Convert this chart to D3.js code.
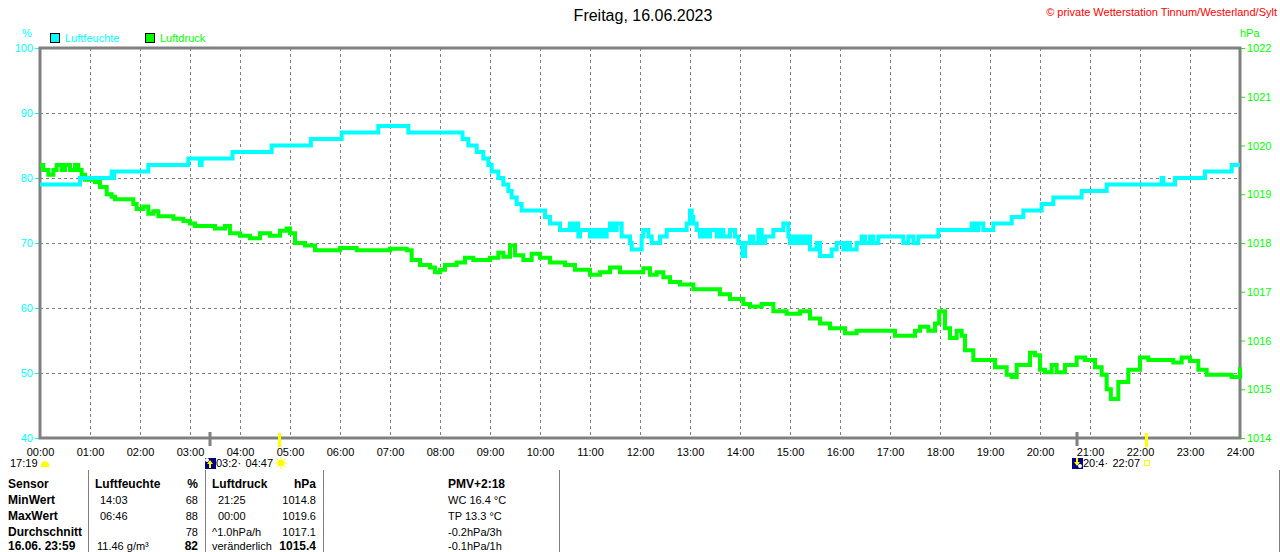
<!DOCTYPE html>
<html>
<head>
<meta charset="utf-8">
<script src="https://cdnjs.cloudflare.com/ajax/libs/d3/7.8.5/d3.min.js"></script>
<style>
  body { margin: 0; background: #ffffff; }
  svg { display: block; }
  text { font-family: "Liberation Sans", Arial, sans-serif; }
</style>
</head>
<body>
<div id="chart"></div>
<script>

// ---- DATA --------------------------------------------------------

var hourTicks = ["00:00", "01:00", "02:00", "03:00", "04:00", "05:00", "06:00", "07:00",
  "08:00", "09:00", "10:00", "11:00", "12:00", "13:00", "14:00", "15:00", "16:00",
  "17:00", "18:00", "19:00", "20:00", "21:00", "22:00", "23:00", "24:00"];
var humTicks = [40, 50, 60, 70, 80, 90, 100];
var pressTicks = [1014, 1015, 1016, 1017, 1018, 1019, 1020, 1021, 1022];

// Luftfeuchte in %, [Uhrzeit, Wert]
var humidity = [
  ["00:00", 79], ["00:48", 80], ["01:26", 81], ["01:27", 80], ["01:29", 81], ["02:10", 82],
  ["02:58", 83], ["03:12", 82], ["03:14", 83], ["03:51", 84], ["04:38", 85], ["05:25", 86],
  ["06:02", 87], ["06:46", 88], ["07:22", 87], ["08:27", 86], ["08:34", 85], ["08:44", 84],
  ["08:52", 83], ["08:58", 82], ["09:02", 81], ["09:10", 80], ["09:16", 79], ["09:22", 78],
  ["09:26", 77], ["09:32", 76], ["09:38", 75], ["10:06", 74], ["10:12", 73], ["10:24", 72],
  ["10:36", 73], ["10:40", 72], ["10:44", 73], ["10:46", 71], ["10:48", 72], ["11:00", 71],
  ["11:04", 72], ["11:08", 71], ["11:12", 72], ["11:16", 71], ["11:20", 72], ["11:24", 73],
  ["11:28", 72], ["11:32", 73], ["11:38", 71], ["11:48", 70], ["11:50", 69], ["12:02", 71],
  ["12:04", 72], ["12:10", 71], ["12:14", 70], ["12:24", 71], ["12:32", 72], ["12:56", 73],
  ["13:00", 75], ["13:02", 74], ["13:04", 73], ["13:08", 72], ["13:12", 71], ["13:16", 72],
  ["13:20", 71], ["13:24", 72], ["13:32", 71], ["13:36", 72], ["13:40", 71], ["13:48", 72],
  ["13:54", 71], ["13:58", 70], ["14:03", 68], ["14:06", 70], ["14:12", 71], ["14:16", 70],
  ["14:22", 72], ["14:26", 70], ["14:30", 71], ["14:40", 72], ["14:52", 73], ["14:58", 71],
  ["15:00", 70], ["15:04", 71], ["15:08", 70], ["15:12", 71], ["15:16", 70], ["15:20", 71],
  ["15:24", 69], ["15:32", 70], ["15:36", 68], ["15:50", 69], ["15:56", 70], ["16:04", 69],
  ["16:08", 70], ["16:12", 69], ["16:20", 70], ["16:26", 71], ["16:30", 70], ["16:36", 71],
  ["16:40", 70], ["16:46", 71], ["17:16", 70], ["17:22", 71], ["17:28", 70], ["17:34", 71],
  ["17:58", 72], ["18:38", 73], ["18:42", 72], ["18:46", 73], ["18:52", 72], ["19:04", 73],
  ["19:26", 74], ["19:40", 75], ["20:02", 76], ["20:16", 77], ["20:50", 78], ["21:20", 79],
  ["22:26", 80], ["22:28", 79], ["22:42", 80], ["23:18", 81], ["23:50", 82], ["24:00", 82]
];

// Luftdruck in hPa, [Uhrzeit, Wert]
var pressure = [
  ["00:00", 1019.6], ["00:04", 1019.5], ["00:10", 1019.4], ["00:16", 1019.5], ["00:20", 1019.6],
  ["00:26", 1019.5], ["00:30", 1019.6], ["00:36", 1019.5], ["00:42", 1019.6], ["00:46", 1019.5],
  ["00:50", 1019.4], ["00:54", 1019.3], ["01:06", 1019.25], ["01:12", 1019.15], ["01:20", 1019.0],
  ["01:26", 1018.95], ["01:30", 1018.9], ["01:48", 1018.9], ["01:52", 1018.8], ["01:56", 1018.7],
  ["02:04", 1018.75], ["02:10", 1018.6], ["02:16", 1018.65], ["02:22", 1018.55], ["02:40", 1018.5],
  ["02:52", 1018.45], ["03:00", 1018.4], ["03:06", 1018.35], ["03:30", 1018.3], ["03:42", 1018.35],
  ["03:48", 1018.2], ["04:00", 1018.15], ["04:12", 1018.1], ["04:24", 1018.2], ["04:36", 1018.15],
  ["04:48", 1018.25], ["04:56", 1018.3], ["05:00", 1018.2], ["05:06", 1018.0], ["05:18", 1017.95],
  ["05:30", 1017.85], ["06:00", 1017.9], ["06:20", 1017.85], ["07:00", 1017.88], ["07:20", 1017.85],
  ["07:26", 1017.65], ["07:36", 1017.55], ["07:48", 1017.5], ["07:54", 1017.4], ["08:00", 1017.45],
  ["08:06", 1017.55], ["08:20", 1017.6], ["08:30", 1017.7], ["08:40", 1017.65], ["09:00", 1017.7],
  ["09:10", 1017.8], ["09:16", 1017.72], ["09:24", 1017.95], ["09:30", 1017.75], ["09:40", 1017.65],
  ["09:50", 1017.78], ["10:00", 1017.7], ["10:12", 1017.6], ["10:30", 1017.55], ["10:42", 1017.45],
  ["11:00", 1017.35], ["11:12", 1017.4], ["11:24", 1017.5], ["11:36", 1017.4], ["12:04", 1017.48],
  ["12:12", 1017.35], ["12:20", 1017.4], ["12:28", 1017.3], ["12:36", 1017.2], ["12:48", 1017.15],
  ["13:04", 1017.05], ["13:36", 1016.95], ["13:48", 1016.85], ["14:04", 1016.75], ["14:12", 1016.7],
  ["14:26", 1016.75], ["14:40", 1016.6], ["14:56", 1016.55], ["15:12", 1016.6], ["15:24", 1016.45],
  ["15:36", 1016.35], ["15:48", 1016.25], ["16:06", 1016.15], ["16:20", 1016.2], ["17:06", 1016.1],
  ["17:30", 1016.2], ["17:36", 1016.28], ["17:46", 1016.2], ["17:54", 1016.35], ["17:59", 1016.6],
  ["18:06", 1016.25], ["18:12", 1016.05], ["18:20", 1016.2], ["18:26", 1016.1], ["18:30", 1015.8],
  ["18:40", 1015.6], ["18:56", 1015.6], ["19:06", 1015.45], ["19:20", 1015.3], ["19:26", 1015.25],
  ["19:32", 1015.5], ["19:48", 1015.75], ["19:54", 1015.7], ["20:00", 1015.4], ["20:06", 1015.35],
  ["20:14", 1015.5], ["20:20", 1015.35], ["20:30", 1015.5], ["20:44", 1015.65], ["20:54", 1015.6],
  ["21:06", 1015.45], ["21:14", 1015.3], ["21:20", 1015.0], ["21:25", 1014.8], ["21:34", 1015.15],
  ["21:46", 1015.4], ["22:00", 1015.65], ["22:10", 1015.6], ["22:40", 1015.55], ["22:50", 1015.65],
  ["23:00", 1015.58], ["23:10", 1015.4], ["23:20", 1015.3], ["23:50", 1015.25], ["24:00", 1015.45]
];

// Mond- und Sonnenzeiten unter der Achse
var moonEvents = [["03:24", "03:2·", "up"], ["20:44", "20:4·", "down"]];
var sunEvents = [["04:47", "04:47", "rise"], ["22:07", "22:07", "set"]];

// Tabelle
var tableRows = ["Sensor", "MinWert", "MaxWert", "Durchschnitt", "16.06. 23:59"];
var humColumn = [["Luftfeuchte", "%"], ["14:03", "68"], ["06:46", "88"], ["", "78"], ["11.46 g/m³", "82"]];
var pressColumn = [["Luftdruck", "hPa"], ["21:25", "1014.8"], ["00:00", "1019.6"], ["^1.0hPa/h", "1017.1"], ["veränderlich", "1015.4"]];
var pmvColumn = ["PMV+2:18", "WC 16.4 °C", "TP 13.3 °C", "-0.2hPa/3h", "-0.1hPa/1h"];

// ---- VARIABLES ---------------------------------------------------

var w = 1280;
var h = 552;
var plotLeft = 40, plotRight = 1240, plotTop = 48, plotBottom = 438;
var cyan = "#00ffff", green = "#00ff00", grey = "#808080";

function toHours(s) {
  var p = s.split(":");
  return +p[0] + (+p[1]) / 60;
}

// ---- SCALES ------------------------------------------------------

var xScale = d3.scaleLinear().domain([0, 24]).range([plotLeft, plotRight]);
var yHum = d3.scaleLinear().domain([40, 100]).range([plotBottom, plotTop]);
var yPress = d3.scaleLinear().domain([1014, 1022]).range([plotBottom, plotTop]);

var svg = d3.select("#chart")
  .append("svg")
  .attr("width", w)
  .attr("height", h);

// ---- TITLES ------------------------------------------------------

svg.append("text")
  .attr("x", 643).attr("y", 21)
  .attr("text-anchor", "middle")
  .attr("font-size", "16px")
  .attr("fill", "#000")
  .text("Freitag, 16.06.2023");

svg.append("text")
  .attr("x", 1277).attr("y", 16)
  .attr("text-anchor", "end")
  .attr("font-size", "11px")
  .attr("fill", "#ff0000")
  .text("© private Wetterstation Tinnum/Westerland/Sylt");

svg.append("text")
  .attr("x", 27).attr("y", 37)
  .attr("text-anchor", "middle")
  .attr("font-size", "11px")
  .attr("fill", cyan)
  .text("%");

svg.append("text")
  .attr("x", 1240).attr("y", 37)
  .attr("font-size", "11px")
  .attr("fill", green)
  .text("hPa");

// legend
var legend = [["Luftfeuchte", cyan, 50], ["Luftdruck", green, 145]];
legend.forEach(function(d) {
  svg.append("rect")
    .attr("x", d[2] + 0.5).attr("y", 33.5)
    .attr("width", 9).attr("height", 9)
    .attr("fill", d[1])
    .attr("stroke", "#000");
  svg.append("text")
    .attr("x", d[2] + 15).attr("y", 42)
    .attr("font-size", "11px")
    .attr("fill", d[1])
    .text(d[0]);
});

// ---- GRID --------------------------------------------------------

svg.selectAll(".vgrid")
  .data(hourTicks.slice(1, 24))
  .enter()
  .append("line")
  .attr("class", "vgrid")
  .attr("x1", function(d) { return xScale(toHours(d)) + 0.5; })
  .attr("x2", function(d) { return xScale(toHours(d)) + 0.5; })
  .attr("y1", plotTop).attr("y2", plotBottom)
  .attr("stroke", grey)
  .attr("stroke-dasharray", "3,3");

svg.selectAll(".hgrid")
  .data(humTicks.slice(1, 6))
  .enter()
  .append("line")
  .attr("class", "hgrid")
  .attr("x1", plotLeft).attr("x2", plotRight)
  .attr("y1", function(d) { return Math.round(yHum(d)) + 0.5; })
  .attr("y2", function(d) { return Math.round(yHum(d)) + 0.5; })
  .attr("stroke", grey)
  .attr("stroke-dasharray", "3,3");

// ---- AXES --------------------------------------------------------

var xAxis = d3.axisBottom(xScale)
  .tickValues(hourTicks.map(toHours))
  .tickFormat(function(d, i) { return hourTicks[i]; })
  .tickSize(0).tickPadding(10);

var gx = svg.append("g")
  .attr("transform", "translate(0," + plotBottom + ")")
  .call(xAxis);
gx.select(".domain").remove();
gx.selectAll("text").attr("font-size", "11px").attr("fill", "#000")
  .attr("font-family", "Liberation Sans, Arial, sans-serif");

var yAxisLeft = d3.axisLeft(yHum).tickValues(humTicks).tickFormat(d3.format("d"))
  .tickSize(4).tickPadding(2);
var gl = svg.append("g")
  .attr("transform", "translate(" + (plotLeft - 1) + ",0)")
  .call(yAxisLeft);
gl.select(".domain").remove();
gl.selectAll("line").attr("stroke", cyan);
gl.selectAll("text").attr("font-size", "11px").attr("fill", cyan)
  .attr("font-family", "Liberation Sans, Arial, sans-serif");

var yAxisRight = d3.axisRight(yPress).tickValues(pressTicks).tickFormat(d3.format("d"))
  .tickSize(4).tickPadding(2);
var gr = svg.append("g")
  .attr("transform", "translate(" + (plotRight + 1) + ",0)")
  .call(yAxisRight);
gr.select(".domain").remove();
gr.selectAll("line").attr("stroke", green);
gr.selectAll("text").attr("font-size", "11px").attr("fill", green)
  .attr("font-family", "Liberation Sans, Arial, sans-serif");

// frame
svg.append("rect")
  .attr("x", plotLeft).attr("y", plotTop)
  .attr("width", plotRight - plotLeft).attr("height", plotBottom - plotTop)
  .attr("fill", "none")
  .attr("stroke", grey)
  .attr("stroke-width", 3);

// ---- LINES -------------------------------------------------------

var pressLine = d3.line()
  .x(function(d) { return xScale(toHours(d[0])); })
  .y(function(d) { return yPress(d[1]); })
  .curve(d3.curveStepAfter);

var humLine = d3.line()
  .x(function(d) { return xScale(toHours(d[0])); })
  .y(function(d) { return yHum(d[1]); })
  .curve(d3.curveStepAfter);

svg.append("path")
  .datum(pressure)
  .attr("d", pressLine)
  .attr("fill", "none")
  .attr("stroke", green)
  .attr("stroke-width", 4);

svg.append("path")
  .datum(humidity)
  .attr("d", humLine)
  .attr("fill", "none")
  .attr("stroke", cyan)
  .attr("stroke-width", 4);

// ---- SUN / MOON --------------------------------------------------

svg.append("text")
  .attr("x", 10).attr("y", 467)
  .attr("font-size", "11px").attr("fill", "#000")
  .text("17:19");
svg.append("path")
  .attr("d", "M41,467 L41,464 Q45,458 49,464 L49,467 Z")
  .attr("fill", "#ffff00");

moonEvents.forEach(function(d) {
  var x = Math.round(xScale(toHours(d[0])));
  svg.append("rect")
    .attr("x", x - 1.5).attr("y", 432)
    .attr("width", 3).attr("height", 14)
    .attr("fill", grey);
  svg.append("rect")
    .attr("x", x - 5).attr("y", 458)
    .attr("width", 11).attr("height", 11)
    .attr("fill", "#000080");
  svg.append("circle")
    .attr("cx", d[2] == "up" ? x - 3 : x + 3).attr("cy", d[2] == "up" ? 460 : 466)
    .attr("r", 2).attr("fill", "#fff");
  svg.append("path")
    .attr("d", d[2] == "up"
      ? "M" + x + ",460 L" + (x + 3) + ",464 L" + (x + 1) + ",464 L" + (x + 1) + ",468 L" + (x - 1) + ",468 L" + (x - 1) + ",464 L" + (x - 3) + ",464 Z"
      : "M" + x + ",466 L" + (x + 3) + ",462 L" + (x + 1) + ",462 L" + (x + 1) + ",458 L" + (x - 1) + ",458 L" + (x - 1) + ",462 L" + (x - 3) + ",462 Z")
    .attr("fill", "#ffff00");
  svg.append("text")
    .attr("x", x + 6).attr("y", 467)
    .attr("font-size", "11px").attr("fill", "#000")
    .text(d[1]);
});

sunEvents.forEach(function(d) {
  var x = Math.round(xScale(toHours(d[0])));
  svg.append("rect")
    .attr("x", x - 1).attr("y", 433)
    .attr("width", 3).attr("height", 14)
    .attr("fill", "#ffff00");
  svg.append("text")
    .attr("x", x - 6).attr("y", 467)
    .attr("text-anchor", "end")
    .attr("font-size", "11px").attr("fill", "#000")
    .text(d[1]);
  if (d[2] == "rise") {
    svg.append("circle")
      .attr("cx", x + 2).attr("cy", 463).attr("r", 3.5)
      .attr("fill", "#ffff00");
    for (var a = 0; a < 8; a++) {
      var ang = a * Math.PI / 4;
      svg.append("line")
        .attr("x1", x + 2 + Math.cos(ang) * 4).attr("y1", 463 + Math.sin(ang) * 4)
        .attr("x2", x + 2 + Math.cos(ang) * 6).attr("y2", 463 + Math.sin(ang) * 6)
        .attr("stroke", "#ffff00");
    }
  } else {
    svg.append("rect")
      .attr("x", x - 1.5).attr("y", 460.5)
      .attr("width", 5).attr("height", 5)
      .attr("fill", "none")
      .attr("stroke", "#ffff00");
  }
});

// ---- TABLE -------------------------------------------------------

var rowY = [488, 504, 520, 536, 550];
var tableLines = [88, 205, 323, 559, 1279];

svg.selectAll(".tline")
  .data(tableLines)
  .enter()
  .append("line")
  .attr("x1", function(d) { return d + 0.5; })
  .attr("x2", function(d) { return d + 0.5; })
  .attr("y1", 470).attr("y2", h)
  .attr("stroke", grey);

function cell(x, y, txt, bold, anchor) {
  svg.append("text")
    .attr("x", x).attr("y", y)
    .attr("text-anchor", anchor || "start")
    .attr("font-size", bold ? "12px" : "11px")
    .attr("font-weight", bold ? "bold" : "normal")
    .attr("fill", "#000")
    .text(txt);
}

tableRows.forEach(function(d, i) {
  cell(8, rowY[i], d, true);
});

humColumn.forEach(function(d, i) {
  cell(i == 0 ? 95 : (i == 4 ? 97 : 100), rowY[i], d[0], i == 0);
  cell(198, rowY[i], d[1], i == 0 || i == 4, "end");
});

pressColumn.forEach(function(d, i) {
  cell(i == 0 || i >= 3 ? 212 : 218, rowY[i], d[0], i == 0);
  cell(316, rowY[i], d[1], i == 0 || i == 4, "end");
});

pmvColumn.forEach(function(d, i) {
  cell(448, rowY[i], d, i == 0);
});

</script>
</body>
</html>
